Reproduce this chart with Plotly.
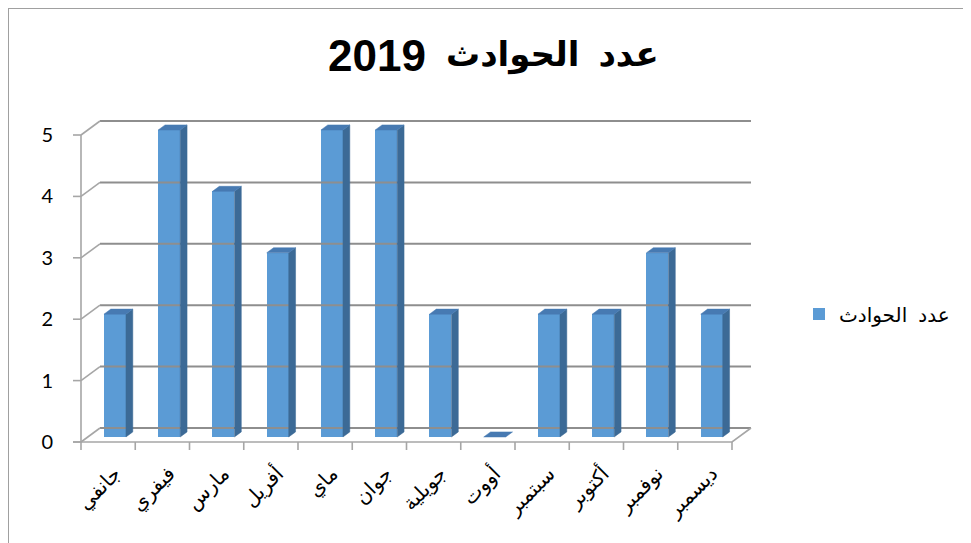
import plotly.graph_objects as go

# ---------------- data ----------------
months = ["جانفي", "فيفري", "مارس", "أفريل", "ماي", "جوان",
          "جويلية", "أووت", "سبتمبر", "أكتوبر", "نوفمبر", "ديسمبر"]
accidents = [2, 5, 4, 3, 5, 5, 2, 0, 2, 2, 3, 2]
y_ticks = [0, 1, 2, 3, 4, 5]
series_name = "عدد  الحوادث"
title_year = "2019"
title_words = "عدد  الحوادث"

# ---------------- geometry / style ----------------
OFF = 8                      # page body margin in the viewer
W, H = 971 - OFF, 543 - OFF


def px(v):                   # page pixel -> figure pixel
    return v - OFF


ML = px(66)
MT = px(110)
PLOT_R = px(760)
PLOT_B = px(452)
MR = W - PLOT_R
MB = H - PLOT_B

FRONT_LEFT_PX = px(81.0)
ZERO_PX = px(442.0)
PX_PER_CAT = 54.25
PX_PER_UNIT = 61.4

DX = 19 / PX_PER_CAT      # depth offset (x units)
DY = 14 / PX_PER_UNIT     # depth offset (y units)
D0, D1 = 0.36, 0.72       # bar front / back depth fraction
BAR_W = 22 / PX_PER_CAT

plot_w = W - ML - MR
plot_h = H - MT - MB

xmin = -0.5 - (FRONT_LEFT_PX - ML) / PX_PER_CAT
xmax = xmin + plot_w / PX_PER_CAT
ymin = -(PLOT_B - ZERO_PX) / PX_PER_UNIT
ymax = ymin + plot_h / PX_PER_UNIT


def paper_x(p):
    return (px(p) - ML) / plot_w


def paper_y(p):
    return (PLOT_B - px(p)) / plot_h


FRONT = "#5B9BD5"
SIDE = "#3C6A96"
TOP = "#477AB2"
GRID = "#8E8E8E"
AXIS = "#A6A6A6"
AR_FONT = "Arial, 'DejaVu Sans', sans-serif"

n = len(months)
x_left = -0.5
x_right = n - 0.5
ymax_axis = max(y_ticks)

fig = go.Figure()


def seg_trace(xs, ys, color, width):
    fig.add_trace(go.Scatter(x=xs, y=ys, mode="lines",
                             line=dict(color=color, width=width),
                             hoverinfo="skip", showlegend=False))


# back wall gridlines + left wall diagonals
gx, gy, dxs, dys = [], [], [], []
for v in y_ticks:
    gx += [x_left + DX, x_right + DX, None]
    gy += [v + DY, v + DY, None]
    dxs += [x_left, x_left + DX, None]
    dys += [v, v + DY, None]
seg_trace(gx, gy, GRID, 2)
seg_trace(dxs, dys, AXIS, 1.6)

# floor: front line, right diagonal
seg_trace([x_left - 8 / PX_PER_CAT, x_right, x_right + DX],
          [0, 0, DY], AXIS, 1.6)

# front vertical axis + y tick marks
ax_x, ax_y = [x_left, x_left, None], [0, ymax_axis, None]
for v in y_ticks:
    ax_x += [x_left - 8 / PX_PER_CAT, x_left, None]
    ax_y += [v, v, None]
seg_trace(ax_x, ax_y, AXIS, 1.6)

# x tick marks at category boundaries
tx, ty = [], []
for k in range(n + 1):
    b = k - 0.5
    tx += [b, b, None]
    ty += [0, -8 / PX_PER_UNIT, None]
seg_trace(tx, ty, AXIS, 1.6)

# bars: front faces
centers = [i + D0 * DX for i in range(n)]
fig.add_trace(go.Bar(x=centers, y=accidents, base=D0 * DY, width=BAR_W,
                     marker=dict(color=FRONT, line=dict(width=0)),
                     name=series_name, hoverinfo="skip", showlegend=True))

# side and top faces
ddx = (D1 - D0) * DX
sx, sy, tpx, tpy = [], [], [], []
for i, v in enumerate(accidents):
    xl = centers[i] - BAR_W / 2
    xr = centers[i] + BAR_W / 2
    yb0 = D0 * DY
    yb1 = D1 * DY
    if v > 0:
        sx += [xr, xr, xr + ddx, xr + ddx, xr, None]
        sy += [yb0, v + yb0, v + yb1, yb1, yb0, None]
    tpx += [xl, xr, xr + ddx, xl + ddx, xl, None]
    tpy += [v + yb0, v + yb0, v + yb1, v + yb1, v + yb0, None]
fig.add_trace(go.Scatter(x=sx, y=sy, mode="lines", fill="toself",
                         fillcolor=SIDE, line=dict(color=SIDE, width=0.5),
                         hoverinfo="skip", showlegend=False))
fig.add_trace(go.Scatter(x=tpx, y=tpy, mode="lines", fill="toself",
                         fillcolor=TOP, line=dict(color=TOP, width=0.5),
                         hoverinfo="skip", showlegend=False))

fig.update_layout(
    width=W, height=H,
    margin=dict(l=ML, r=MR, t=MT, b=MB, pad=0, autoexpand=False),
    paper_bgcolor="white", plot_bgcolor="rgba(0,0,0,0)",
    font=dict(family=AR_FONT, color="black"),
    xaxis=dict(range=[xmin, xmax], showgrid=False, zeroline=False,
               showline=False, ticks="", tickmode="array",
               tickvals=centers, ticktext=months, tickangle=-45,
               tickfont=dict(size=20, color="black"), fixedrange=True,
               ticklabelstandoff=5, automargin=False),
    yaxis=dict(range=[ymin, ymax], showgrid=False, zeroline=False,
               showline=False, ticks="", tickmode="array",
               tickvals=y_ticks, ticktext=[str(v) for v in y_ticks],
               tickfont=dict(size=20, family="Lato, 'Open Sans', sans-serif",
                             color="black"),
               ticklabelstandoff=12, fixedrange=True, automargin=False),
    legend=dict(x=paper_x(799), xanchor="left",
                y=paper_y(314), yanchor="middle",
                font=dict(size=20, color="black"),
                bgcolor="rgba(0,0,0,0)"),
    bargap=0,
    annotations=[
        dict(text=title_year, xref="paper", yref="paper",
             x=paper_x(428), y=paper_y(55), xanchor="right", yanchor="middle",
             showarrow=False,
             font=dict(size=44, family="'Liberation Sans', Arial, sans-serif",
                       weight="bold", color="black")),
        dict(text=title_words, xref="paper", yref="paper",
             x=paper_x(444), y=paper_y(55), xanchor="left", yanchor="middle",
             showarrow=False,
             font=dict(size=34, family=AR_FONT, weight="bold",
                       color="black")),
    ],
    shapes=[dict(type="rect", xref="paper", yref="paper",
                 x0=(0 - ML) / plot_w, x1=(W + 10 - ML) / plot_w,
                 y0=(PLOT_B - (H + 10)) / plot_h,
                 y1=(PLOT_B - 0) / plot_h,
                 line=dict(color="#A0A0A0", width=2), layer="below")],
)

fig.write_html("out.html")
